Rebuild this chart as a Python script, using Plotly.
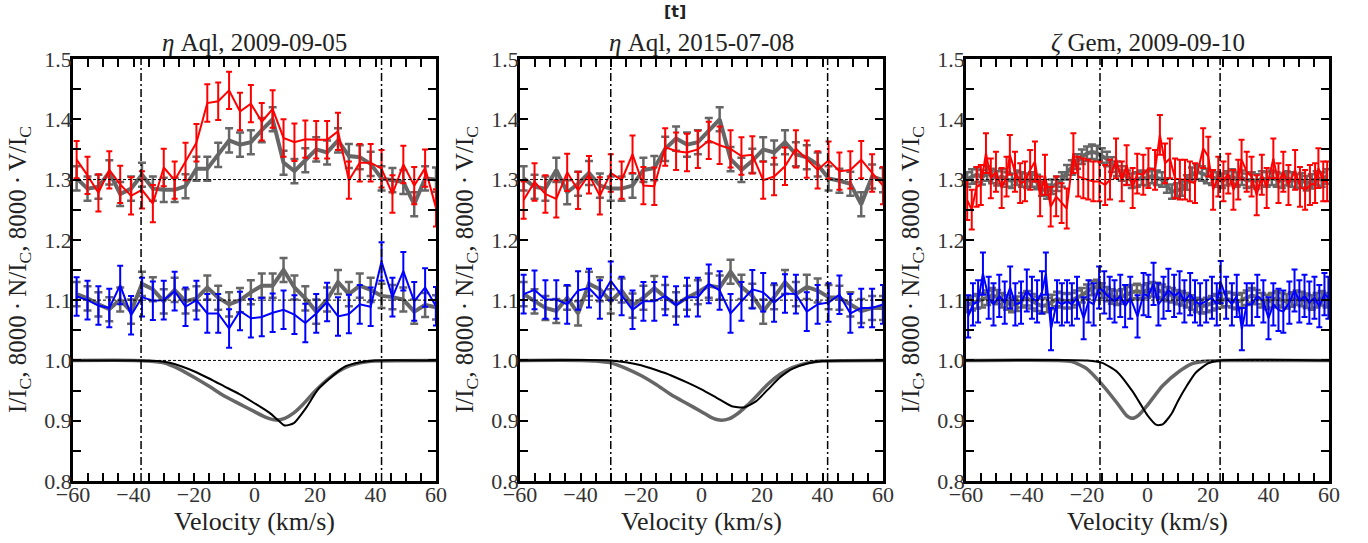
import plotly.graph_objects as go

# ---------------- data ----------------
# velocity grid shared by panels 1 and 2 (km/s)
vel12 = [-58.8, -55.2, -51.6, -48.0, -44.4, -40.8, -37.2, -33.6, -30.0, -26.4, -22.8, -19.2,
         -15.6, -12.0, -8.4, -4.8, -1.2, 2.4, 6.0, 9.6, 13.2, 16.8, 20.4, 24.0, 27.6, 31.2,
         34.8, 38.4, 42.0, 45.6, 49.2, 52.8, 56.4, 60.0]

# Panel 1: eta Aql 2009-09-05
V1 = [1.333, 1.307, 1.278, 1.316, 1.292, 1.273, 1.283, 1.260, 1.320, 1.299, 1.330, 1.361,
      1.427, 1.430, 1.448, 1.413, 1.426, 1.396, 1.417, 1.369, 1.362, 1.367, 1.366, 1.366,
      1.380, 1.299, 1.328, 1.328, 1.318, 1.276, 1.325, 1.290, 1.319, 1.253]
Vref1 = [1.302, 1.285, 1.288, 1.312, 1.276, 1.285, 1.308, 1.285, 1.283, 1.283, 1.289, 1.318,
         1.318, 1.341, 1.365, 1.358, 1.362, 1.382, 1.400, 1.328, 1.314, 1.332, 1.350, 1.345,
         1.365, 1.339, 1.337, 1.326, 1.302, 1.299, 1.296, 1.259, 1.302, 1.300]
N1 = [1.106, 1.100, 1.091, 1.087, 1.125, 1.075, 1.105, 1.099, 1.100, 1.115, 1.089, 1.100,
      1.078, 1.078, 1.053, 1.082, 1.070, 1.072, 1.079, 1.084, 1.076, 1.062, 1.078, 1.097,
      1.073, 1.077, 1.093, 1.089, 1.164, 1.105, 1.148, 1.098, 1.121, 1.090]
Nref1 = [1.110, 1.103, 1.093, 1.085, 1.101, 1.081, 1.127, 1.118, 1.098, 1.117, 1.098, 1.103,
         1.121, 1.104, 1.093, 1.100, 1.113, 1.124, 1.124, 1.150, 1.121, 1.103, 1.081, 1.101,
         1.130, 1.110, 1.124, 1.117, 1.107, 1.105, 1.101, 1.081, 1.092, 1.088]

# Panel 2: eta Aql 2015-07-08
V2 = [1.266, 1.296, 1.276, 1.268, 1.312, 1.282, 1.308, 1.273, 1.311, 1.299, 1.342, 1.290,
      1.289, 1.354, 1.347, 1.345, 1.350, 1.365, 1.357, 1.351, 1.339, 1.341, 1.299, 1.305,
      1.322, 1.351, 1.334, 1.316, 1.332, 1.314, 1.316, 1.333, 1.311, 1.290]
Vref2 = [1.302, 1.288, 1.285, 1.316, 1.279, 1.293, 1.311, 1.290, 1.285, 1.285, 1.290, 1.316,
         1.319, 1.351, 1.368, 1.358, 1.362, 1.382, 1.400, 1.334, 1.316, 1.331, 1.350, 1.345,
         1.362, 1.342, 1.337, 1.325, 1.302, 1.298, 1.293, 1.259, 1.305, 1.299]
N2 = [1.110, 1.117, 1.101, 1.101, 1.093, 1.116, 1.120, 1.101, 1.132, 1.107, 1.084, 1.098,
      1.098, 1.107, 1.091, 1.105, 1.105, 1.127, 1.116, 1.078, 1.098, 1.118, 1.113, 1.096,
      1.111, 1.110, 1.081, 1.093, 1.096, 1.109, 1.078, 1.087, 1.087, 1.093]
Nref2 = [1.110, 1.098, 1.087, 1.082, 1.104, 1.078, 1.127, 1.118, 1.098, 1.116, 1.091, 1.104,
         1.120, 1.105, 1.093, 1.104, 1.113, 1.124, 1.121, 1.147, 1.122, 1.107, 1.081, 1.105,
         1.130, 1.110, 1.122, 1.116, 1.105, 1.104, 1.093, 1.082, 1.087, 1.087]

# Panel 3: zeta Gem 2009-09-10
vel3_V = [-59.6, -58.1, -56.5, -55.1, -53.4, -51.8, -50.1, -48.2, -46.6, -45.5, -43.8, -42.1,
          -40.5, -38.8, -37.2, -35.5, -33.9, -32.0, -30.2, -28.4, -26.7, -24.5, -22.9, -21.2,
          -19.6, -17.9, -15.9, -14.0, -12.4, -10.4, -8.5, -6.9, -4.9, -3.4, -1.4, 0.3, 2.5,
          4.1, 5.8, 7.4, 9.1, 10.7, 12.4, 14.0, 15.7, 18.4, 20.1, 21.7, 23.4, 25.1, 26.7, 28.4,
          30.0, 31.1, 32.8, 34.4, 36.1, 37.8, 39.4, 41.6, 43.3, 44.9, 46.6, 48.8, 50.4, 52.1,
          53.7, 55.4, 56.5, 58.1, 59.4]
V3 = [1.266, 1.250, 1.288, 1.291, 1.344, 1.302, 1.313, 1.286, 1.305, 1.341, 1.313, 1.294,
      1.297, 1.316, 1.330, 1.272, 1.308, 1.255, 1.272, 1.261, 1.252, 1.344, 1.305, 1.302,
      1.300, 1.297, 1.297, 1.291, 1.300, 1.335, 1.297, 1.324, 1.286, 1.310, 1.308, 1.319,
      1.316, 1.374, 1.327, 1.335, 1.302, 1.300, 1.300, 1.297, 1.294, 1.352, 1.338, 1.283,
      1.305, 1.297, 1.310, 1.283, 1.300, 1.333, 1.313, 1.305, 1.274, 1.308, 1.286, 1.335,
      1.294, 1.313, 1.291, 1.316, 1.288, 1.283, 1.291, 1.294, 1.319, 1.297, 1.297]
vel3_N = [-59.3, -57.7, -56.0, -54.4, -52.5, -50.9, -49.0, -47.2, -45.4, -43.7, -41.8, -39.9,
          -38.2, -36.5, -34.9, -33.6, -31.9, -29.9, -28.3, -26.6, -25.0, -23.3, -21.1, -19.5,
          -17.8, -16.0, -14.3, -12.5, -10.9, -9.0, -7.4, -5.7, -3.3, -1.3, 0.3, 2.0, 3.6, 5.3,
          6.9, 8.8, 10.6, 12.2, 14.1, 15.7, 17.4, 19.4, 21.3, 22.9, 24.2, 26.0, 27.9, 29.5,
          31.2, 32.8, 34.5, 36.3, 38.3, 40.0, 41.6, 43.3, 44.9, 46.9, 48.6, 50.2, 51.9, 53.5,
          55.2, 56.8, 58.5, 59.8]
N3 = [1.073, 1.093, 1.098, 1.144, 1.104, 1.093, 1.107, 1.096, 1.121, 1.093, 1.096, 1.116,
      1.104, 1.098, 1.113, 1.144, 1.052, 1.098, 1.093, 1.098, 1.093, 1.104, 1.070, 1.098,
      1.093, 1.121, 1.113, 1.104, 1.098, 1.107, 1.090, 1.104, 1.073, 1.110, 1.107, 1.127,
      1.093, 1.104, 1.117, 1.107, 1.113, 1.098, 1.110, 1.098, 1.093, 1.098, 1.104, 1.093,
      1.130, 1.104, 1.093, 1.107, 1.052, 1.093, 1.093, 1.107, 1.098, 1.070, 1.093, 1.084,
      1.081, 1.096, 1.116, 1.098, 1.107, 1.096, 1.104, 1.090, 1.110, 1.104]
vel3_ref = [-59.6, -58.0, -56.3, -54.7, -53.0, -51.4, -49.7, -48.1, -46.4, -44.8, -43.1, -41.5,
            -39.8, -38.2, -36.5, -34.9, -33.2, -31.6, -29.9, -28.3, -26.6, -25.0, -23.3, -21.7,
            -20.0, -18.4, -16.7, -15.1, -13.4, -11.8, -10.1, -8.5, -6.8, -5.2, -3.5, -1.9, -0.2,
            1.5, 3.1, 4.8, 6.4, 8.1, 9.7, 11.4, 13.0, 14.7, 16.3, 18.0, 19.6, 21.3, 22.9, 24.6,
            26.2, 27.9, 29.5, 31.2, 32.8, 34.5, 36.1, 37.8, 39.4, 41.1, 42.7, 44.4, 46.0, 47.7,
            49.3, 51.0, 52.6, 54.3, 55.9, 57.6, 59.2]
Vref3 = [1.300, 1.305, 1.308, 1.304, 1.310, 1.306, 1.302, 1.305, 1.300, 1.298, 1.303, 1.300,
         1.298, 1.300, 1.296, 1.285, 1.280, 1.288, 1.293, 1.300, 1.312, 1.320, 1.330, 1.338,
         1.343, 1.346, 1.344, 1.340, 1.334, 1.325, 1.318, 1.310, 1.303, 1.298, 1.300, 1.303,
         1.302, 1.306, 1.303, 1.300, 1.290, 1.280, 1.282, 1.285, 1.295, 1.308, 1.313, 1.310,
         1.306, 1.303, 1.300, 1.298, 1.302, 1.305, 1.300, 1.303, 1.298, 1.300, 1.297, 1.302,
         1.300, 1.303, 1.300, 1.298, 1.302, 1.300, 1.297, 1.299, 1.294, 1.297, 1.302, 1.300,
         1.305]
Nref3 = [1.092, 1.095, 1.098, 1.100, 1.104, 1.108, 1.105, 1.100, 1.096, 1.092, 1.094, 1.100,
         1.103, 1.098, 1.094, 1.090, 1.092, 1.097, 1.102, 1.100, 1.098, 1.100, 1.104, 1.108,
         1.114, 1.120, 1.122, 1.116, 1.110, 1.106, 1.104, 1.106, 1.110, 1.113, 1.115, 1.113,
         1.116, 1.118, 1.117, 1.114, 1.110, 1.108, 1.105, 1.103, 1.100, 1.096, 1.092, 1.090,
         1.092, 1.095, 1.098, 1.100, 1.102, 1.100, 1.097, 1.100, 1.104, 1.108, 1.105, 1.100,
         1.097, 1.100, 1.103, 1.100, 1.098, 1.101, 1.104, 1.102, 1.099, 1.096, 1.100, 1.103,
         1.100]

# error bar half-sizes
errV = [0.031, 0.031, 0.033]
errN = [0.032, 0.032, 0.035]
errRef = [0.020, 0.020, 0.012]

# Stokes I profiles (observed = black, model/reference = grey)
velI1 = [-60, -40, -32, -28, -24, -20, -15, -10, -5, 0, 5, 8, 10, 13, 17, 21, 26, 30, 35, 40, 60]
I1 = [1.0, 1.0, 0.999, 0.996, 0.990, 0.982, 0.970, 0.957, 0.944, 0.929, 0.913, 0.900, 0.892,
      0.896, 0.921, 0.952, 0.975, 0.990, 0.997, 1.0, 1.0]
velIref1 = [-60, -40, -35, -30, -25, -20, -15, -10, -5, 0, 4, 7, 10, 13, 16, 20, 25, 30, 35, 40, 60]
Iref1 = [1.0, 1.0, 0.999, 0.996, 0.986, 0.972, 0.957, 0.941, 0.928, 0.915, 0.905, 0.901, 0.904,
         0.913, 0.927, 0.949, 0.972, 0.988, 0.996, 0.999, 1.0]
velI2 = [-60, -30, -25, -20, -15, -10, -5, 0, 5, 10, 14, 18, 22, 26, 30, 35, 40, 60]
I2 = [1.0, 1.0, 0.997, 0.992, 0.984, 0.975, 0.964, 0.952, 0.938, 0.924, 0.922, 0.932, 0.952,
      0.972, 0.986, 0.995, 0.999, 1.0]
velIref2 = [-60, -40, -35, -30, -25, -20, -15, -10, -5, 0, 3, 6, 9, 12, 15, 18, 22, 26, 30, 35, 40, 60]
Iref2 = [1.0, 1.0, 0.999, 0.996, 0.987, 0.975, 0.960, 0.943, 0.929, 0.915, 0.906, 0.901, 0.903,
         0.912, 0.925, 0.940, 0.961, 0.977, 0.988, 0.996, 0.999, 1.0]
velI3 = [-60, -20, -15, -10, -5, -2, 0, 3, 5, 8, 10, 13, 16, 20, 24, 60]
I3 = [1.0, 1.0, 0.996, 0.981, 0.949, 0.925, 0.909, 0.893, 0.894, 0.912, 0.932, 0.958, 0.980,
      0.995, 1.0, 1.0]
velIref3 = [-60, -30, -25, -20, -15, -10, -7, -5, -3, 0, 5, 10, 15, 20, 25, 60]
Iref3 = [1.0, 1.0, 0.998, 0.986, 0.960, 0.929, 0.909, 0.904, 0.909, 0.926, 0.958, 0.980, 0.995,
         0.999, 1.0, 1.0]

# integration limits (vertical dash-dot lines)
vlim = [(-37.5, 42.0), (-30.0, 41.7), (-15.7, 24.0)]
titles = ["<i>η</i> Aql, 2009-09-05", "<i>η</i> Aql, 2015-07-08", "<i>ζ</i> Gem, 2009-09-10"]
ylabel = ("I/I<sub>C</sub>, 8000\u2009·\u2009N/I<sub>C</sub>, "
          "8000\u2009·\u2009V/I<sub>C</sub>")
hlevels = [1.0, 1.1, 1.3]

# ---------------- figure ----------------
W, H = 1368, 543
SERIF = "Liberation Serif, Times New Roman, serif"
GREY = "#666666"
TXT = "#222222"
xdom = [(73 / W, 436 / W), (520 / W, 883 / W), (966 / W, 1329 / W)]
ydom = ((H - 481) / H, (H - 59) / H)

panels = [
    dict(vr=vel12, V=V1, vn=vel12, N=N1, vref=vel12, Vref=Vref1, Nref=Nref1,
         vI=velI1, I=I1, vIr=velIref1, Ir=Iref1),
    dict(vr=vel12, V=V2, vn=vel12, N=N2, vref=vel12, Vref=Vref2, Nref=Nref2,
         vI=velI2, I=I2, vIr=velIref2, Ir=Iref2),
    dict(vr=vel3_V, V=V3, vn=vel3_N, N=N3, vref=vel3_ref, Vref=Vref3, Nref=Nref3,
         vI=velI3, I=I3, vIr=velIref3, Ir=Iref3),
]

fig = go.Figure()
shapes = []
annotations = []
for k, p in enumerate(panels):
    xa = "x" if k == 0 else f"x{k+1}"
    ya = "y" if k == 0 else f"y{k+1}"
    fig.add_trace(go.Scatter(x=p["vIr"], y=p["Ir"], mode="lines", xaxis=xa, yaxis=ya,
                             line=dict(color=GREY, width=3.5, shape="spline", smoothing=0.6),
                             showlegend=False))
    fig.add_trace(go.Scatter(x=p["vI"], y=p["I"], mode="lines", xaxis=xa, yaxis=ya,
                             line=dict(color="black", width=2, shape="spline", smoothing=0.6),
                             showlegend=False))
    fig.add_trace(go.Scatter(x=p["vref"], y=p["Vref"], mode="lines", xaxis=xa, yaxis=ya,
                             line=dict(color=GREY, width=4),
                             error_y=dict(type="constant", value=errRef[k], color=GREY,
                                          thickness=2.5, width=4),
                             showlegend=False))
    fig.add_trace(go.Scatter(x=p["vr"], y=p["V"], mode="lines", xaxis=xa, yaxis=ya,
                             line=dict(color="#ff0000", width=2),
                             error_y=dict(type="constant", value=errV[k], color="#ff0000",
                                          thickness=2, width=3),
                             showlegend=False))
    fig.add_trace(go.Scatter(x=p["vref"], y=p["Nref"], mode="lines", xaxis=xa, yaxis=ya,
                             line=dict(color=GREY, width=4),
                             error_y=dict(type="constant", value=errRef[k], color=GREY,
                                          thickness=2.5, width=4),
                             showlegend=False))
    fig.add_trace(go.Scatter(x=p["vn"], y=p["N"], mode="lines", xaxis=xa, yaxis=ya,
                             line=dict(color="#0000ff", width=2),
                             error_y=dict(type="constant", value=errN[k], color="#0000ff",
                                          thickness=2, width=3),
                             showlegend=False))
    for lev in hlevels:
        shapes.append(dict(type="line", xref=xa, yref=ya, x0=-60, x1=60, y0=lev, y1=lev,
                           line=dict(color="black", width=1, dash="3px,2px"), layer="above"))
    for vv in vlim[k]:
        shapes.append(dict(type="line", xref=xa, yref=ya, x0=vv, x1=vv, y0=0.8, y1=1.5,
                           line=dict(color="black", width=1.5, dash="8px,3px,2px,3px"),
                           layer="above"))
    xc = (xdom[k][0] + xdom[k][1]) / 2
    annotations.append(dict(text=titles[k], x=xc, y=ydom[1], xref="paper", yref="paper",
                            xanchor="center", yanchor="bottom", yshift=1, showarrow=False,
                            font=dict(family=SERIF, size=25, color=TXT)))
    annotations.append(dict(text=ylabel,
                            x=xdom[k][0], y=(ydom[0] + ydom[1]) / 2, xref="paper", yref="paper",
                            xanchor="center", yanchor="middle", xshift=-54, textangle=-90,
                            showarrow=False, font=dict(family=SERIF, size=25, color=TXT)))

annotations.append(dict(text="<b>[t]</b>", x=675 / W, y=1 - 12 / H, xref="paper", yref="paper",
                        xanchor="center", yanchor="middle", showarrow=False,
                        font=dict(family="DejaVu Sans", size=16, color=TXT)))

axis_common = dict(showline=True, linecolor="black", linewidth=2.5, mirror="ticks",
                   ticks="inside", ticklen=8, tickwidth=1.5, tickcolor="black",
                   showgrid=False, zeroline=False, automargin=False,
                   tickfont=dict(family=SERIF, size=22, color="#333"))
layout = dict(width=W, height=H, margin=dict(l=0, r=0, t=0, b=0, autoexpand=False),
              paper_bgcolor="white", plot_bgcolor="white",
              font=dict(family=SERIF, size=22, color=TXT),
              shapes=shapes, annotations=annotations, showlegend=False)
for k in range(3):
    xn = "xaxis" if k == 0 else f"xaxis{k+1}"
    yn = "yaxis" if k == 0 else f"yaxis{k+1}"
    ya = "y" if k == 0 else f"y{k+1}"
    xa = "x" if k == 0 else f"x{k+1}"
    layout[xn] = dict(axis_common, domain=list(xdom[k]), anchor=ya, range=[-60, 60],
                      tickmode="linear", tick0=-60, dtick=20, ticklabelstandoff=-8,
                      minor=dict(dtick=5, ticks="inside", ticklen=8, tickwidth=1.5,
                                 tickcolor="black", showgrid=False),
                      title=dict(text="Velocity (km/s)", standoff=2,
                                 font=dict(family=SERIF, size=26, color=TXT)))
    layout[yn] = dict(axis_common, domain=list(ydom), anchor=xa, range=[0.8, 1.5],
                      tickmode="linear", tick0=0.8, dtick=0.1, tickformat=".1f",
                      ticklabelstandoff=-6,
                      minor=dict(dtick=0.05, ticks="inside", ticklen=8, tickwidth=1.5,
                                 tickcolor="black", showgrid=False))
fig.update_layout(**layout)
fig.write_html("out.html")
